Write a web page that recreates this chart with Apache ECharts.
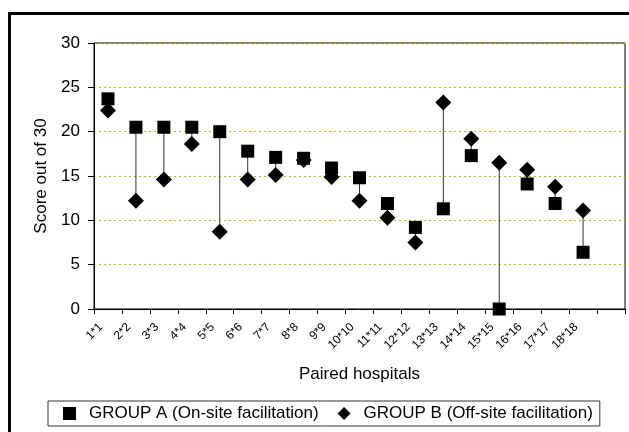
<!DOCTYPE html>
<html>
<head>
<meta charset="utf-8">
<script src="https://cdn.jsdelivr.net/npm/echarts@6/dist/echarts.min.js"></script>
<style>html,body{margin:0;padding:0;background:#fff;}#c{width:629px;height:432px;}</style>
</head>
<body>
<div id="c"></div>
<script>
const categories = ['1*1','2*2','3*3','4*4','5*5','6*6','7*7','8*8','9*9','10*10','11*11','12*12','13*13','14*14','15*15','16*16','17*17','18*18',''];
const groupA = [23.7, 20.5, 20.5, 20.5, 20.0, 17.8, 17.1, 17.0, 15.9, 14.8, 11.9, 9.2, 11.3, 17.3, 0, 14.1, 11.9, 6.4];
const groupB = [22.4, 12.2, 14.6, 18.6, 8.7, 14.6, 15.1, 16.8, 14.9, 12.2, 10.3, 7.5, 23.3, 19.2, 16.5, 15.7, 13.8, 11.1];
const yTicks = [0, 5, 10, 15, 20, 25, 30];
const nameA = 'GROUP A (On-site facilitation)';
const nameB = 'GROUP B (Off-site facilitation)';

const pairs = groupA.map((a, i) => [i, a, groupB[i]]);
const FONT = 'Liberation Sans, Arial, sans-serif';

const chart = echarts.init(document.getElementById('c'), null, {renderer: 'canvas'});
chart.setOption({
  backgroundColor: '#fff',
  animation: false,
  textStyle: {fontFamily: FONT, color: '#000'},
  graphic: [{
    type: 'rect', silent: true, z: 100,
    shape: {x: 9.5, y: 13.5, width: 700, height: 500},
    style: {fill: 'none', stroke: '#000', lineWidth: 3}
  }],
  grid: {left: 94, top: 43, right: 4, bottom: 123, show: true, borderColor: '#000', borderWidth: 1, containLabel: false},
  legend: {
    left: 48, top: 401,
    data: [{name: nameA, icon: 'rect'}, {name: nameB, icon: 'diamond'}],
    itemWidth: 13, itemHeight: 13, itemGap: 19,
    padding: [4, 7, 4, 15],
    borderColor: '#333', borderWidth: 1,
    itemStyle: {opacity: 1},
    textStyle: {fontFamily: FONT, fontSize: 17, color: '#000', padding: [0, 0, 0, 8], lineHeight: 17}
  },
  xAxis: {
    type: 'category', data: categories, boundaryGap: true,
    name: 'Paired hospitals', nameLocation: 'middle', nameGap: 57,
    nameTextStyle: {fontFamily: FONT, fontSize: 17, color: '#000'},
    axisLine: {lineStyle: {color: '#000', width: 1}},
    axisTick: {show: true, length: 5, lineStyle: {color: '#000'}},
    axisLabel: {rotate: 45, fontFamily: FONT, fontSize: 12, color: '#000', margin: 9, padding: [0, 10, 0, 0], interval: 0},
    splitLine: {show: false}
  },
  yAxis: {
    type: 'value', min: yTicks[0], max: yTicks[yTicks.length - 1], interval: 5,
    name: 'Score out of 30', nameLocation: 'middle', nameGap: 42,
    nameTextStyle: {fontFamily: FONT, fontSize: 17, color: '#000'},
    axisLine: {show: true, lineStyle: {color: '#000', width: 1}},
    axisTick: {show: true, length: 6, lineStyle: {color: '#000'}},
    axisLabel: {fontFamily: FONT, fontSize: 17, color: '#000', margin: 14},
    splitLine: {show: true, lineStyle: {color: '#99cc00', type: [2, 3], width: 1}}
  },
  series: [
    {
      type: 'custom', name: 'pairs', silent: true, z: 1,
      data: pairs,
      encode: {x: 0, y: [1, 2]},
      renderItem: function (params, api) {
        const p1 = api.coord([api.value(0), api.value(1)]);
        const p2 = api.coord([api.value(0), api.value(2)]);
        return {type: 'line', shape: {x1: p1[0], y1: p1[1], x2: p2[0], y2: p2[1]},
          style: {stroke: '#333', lineWidth: 1}};
      }
    },
    {
      type: 'scatter', name: nameB, data: groupB, symbol: 'diamond', symbolSize: 16,
      itemStyle: {color: '#000', opacity: 1}, z: 3, clip: false
    },
    {
      type: 'scatter', name: nameA, data: groupA, symbol: 'rect', symbolSize: 13,
      itemStyle: {color: '#000', opacity: 1}, z: 4, clip: false
    }
  ]
});
</script>
</body>
</html>
